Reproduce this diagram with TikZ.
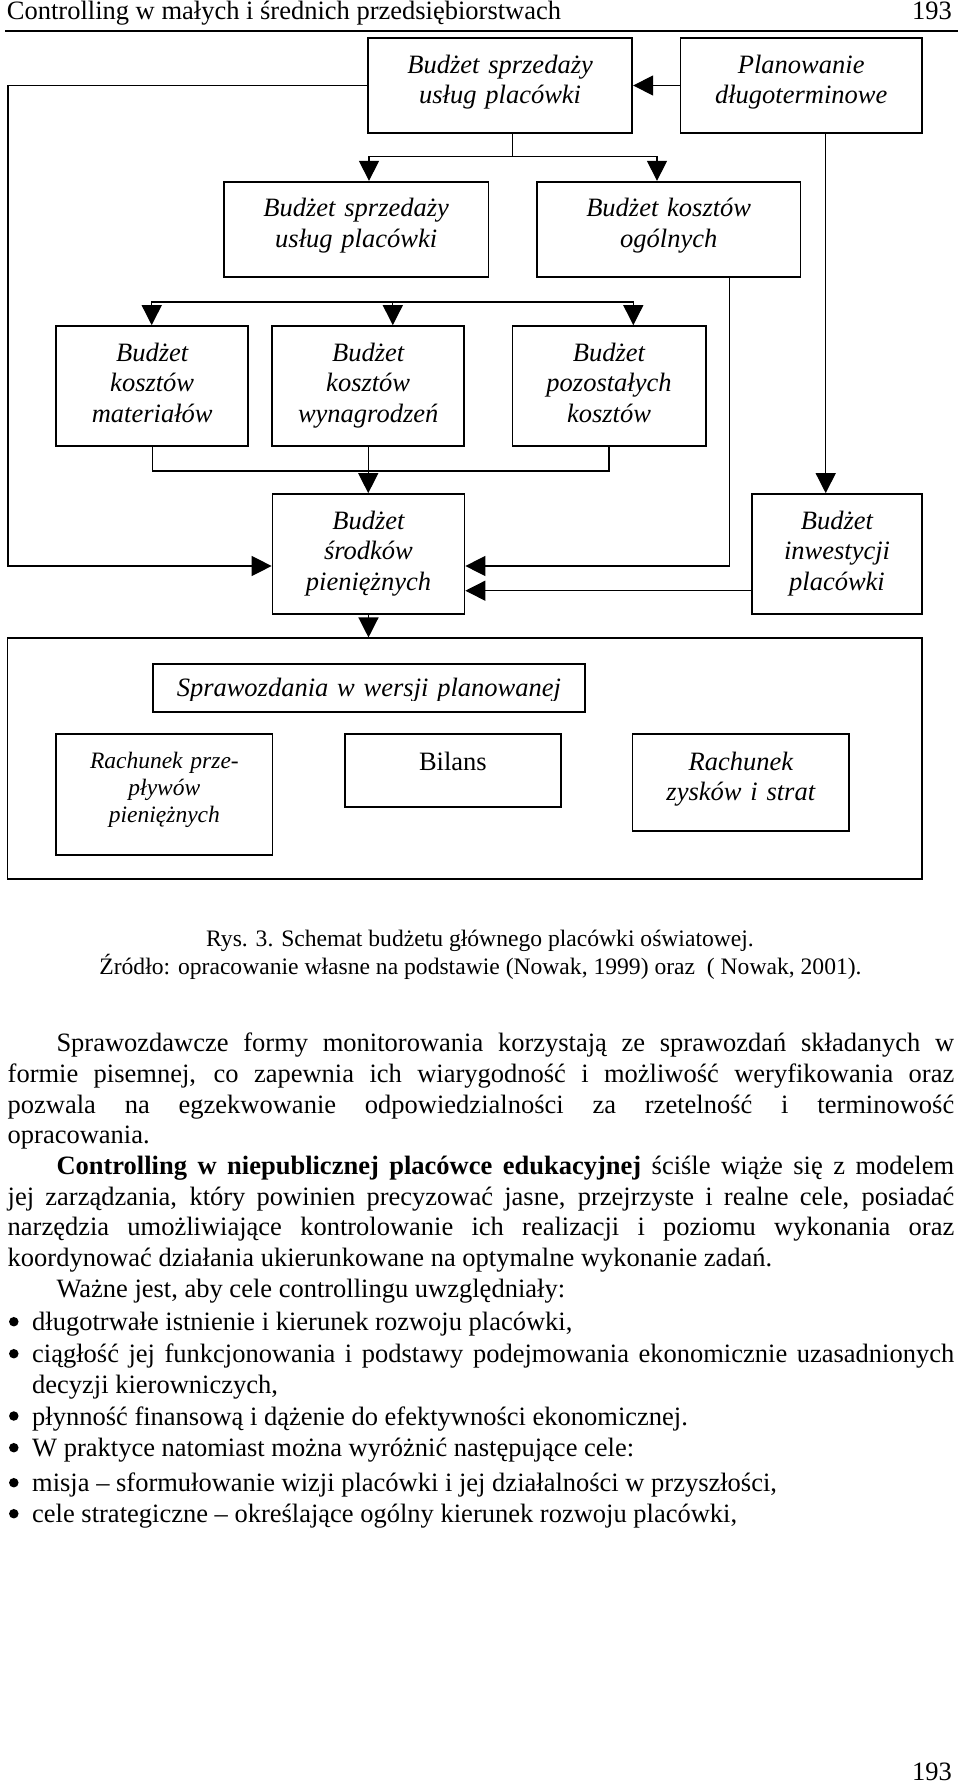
\documentclass[tikz,border=0pt]{standalone}
\usepackage{fontspec}
\setmainfont{Liberation Serif}
\usetikzlibrary{arrows.meta,fit}
\newcommand\bxfont{\fontsize{26.5}{30.66}\selectfont\itshape}
\newcommand\smfont{\fontsize{23.5}{27.2}\selectfont\itshape}
\newcommand\bodyfont{\fontsize{26.5}{30.66}\selectfont}
\newcommand\capfont{\fontsize{23.6}{27}\selectfont}
\begin{document}
\begin{tikzpicture}[x=1pt,y=-1pt,
  box/.style={draw, line width=1.7pt, inner sep=0pt},
  conn/.style={line width=1.3pt, line cap=rect},
  arr/.style={-{Triangle[length=20pt,width=20pt]}},
  bt/.style={anchor=base, inner sep=0pt, text width=#1, align=center, font=\bxfont},
  bt/.default=250pt,
  tl/.style={anchor=base west, inner sep=0pt, font=\bodyfont},
  dot/.style={circle, fill, inner sep=0pt, minimum size=9.5pt},
  ]
\useasboundingbox (0,0) rectangle (960,1784);
\fill[white] (0,0) rectangle (960,1784);

% header
\node[tl] (hd) at (6.7,20) {Controlling w małych i średnich przedsiębiorstwach};
\node[anchor=base east, inner sep=0pt, font=\bodyfont] (pg1) at (952,20) {193};
\draw[line width=1.8pt] (5,31) -- (958,31);

% boxes
\node[box, fit={(367.9,37.7) (632.3,133.3)}] (B1) {};
\node[box, fit={(680.6,37.7) (921.7,133.3)}] (P) {};
\node[box, fit={(224,181.7) (488.4,277.3)}] (B2a) {};
\node[box, fit={(536.7,181.7) (800.6,277.3)}] (B2b) {};
\node[box, fit={(56.3,326) (248,446)}] (B3a) {};
\node[box, fit={(272.3,326) (464.2,446)}] (B3b) {};
\node[box, fit={(512.4,326) (705.7,446)}] (B3c) {};
\node[box, fit={(272.5,494) (464.5,614)}] (B4) {};
\node[box, fit={(752.3,494) (921.7,614)}] (B5) {};
\node[box, fit={(7.5,638.3) (921.7,879)}] (Out) {};
\node[box, fit={(152.7,664) (585,712)}] (S) {};
\node[box, fit={(56.3,734) (272.5,855)}] (R1) {};
\node[box, fit={(344.8,734) (561,807)}] (R2) {};
\node[box, fit={(632.6,734) (849,831)}] (R3) {};

% box texts
\node[bt] (tB1) at (500.1,73.3) {Budżet sprzedaży\\usług placówki};
\node[bt] (tP) at (801.2,73.3) {Planowanie\\długoterminowe};
\node[bt] (tB2a) at (356.2,216.7) {Budżet sprzedaży\\usług placówki};
\node[bt] (tB2b) at (668.7,216.7) {Budżet kosztów\\ogólnych};
\node[bt=190pt] (tB3a) at (152.2,361) {Budżet\\kosztów\\materiałów};
\node[bt=190pt] (tB3b) at (368.2,361) {Budżet\\kosztów\\wynagrodzeń};
\node[bt=190pt] (tB3c) at (609,361) {Budżet\\pozostałych\\kosztów};
\node[bt=190pt] (tB4) at (368.5,529.3) {Budżet\\środków\\pieniężnych};
\node[bt=165pt] (tB5) at (837,529.3) {Budżet\\inwestycji\\placówki};
\begin{scope}
\clip (152.7,664) rectangle (585,700.5);
\node[bt=430pt] (tS) at (368.9,696.7) {Sprawozdania w wersji planowanej};
\end{scope}
\node[bt=210pt, font=\smfont] (tR1) at (164.4,768.3) {Rachunek prze-\\pływów\\pieniężnych};
\node[anchor=base, inner sep=0pt, font=\bodyfont] (tR2) at (452.9,770.7) {Bilans};
\node[bt=210pt] (tR3) at (740.8,770) {Rachunek\\zysków i strat};

% connectors
\draw[conn,arr] (P.west) -- (B1.east);
\coordinate (jL) at (8,566);
\draw[conn,arr] (B1.west) -| (jL) -- (jL -| B4.west);
\coordinate (b1s) at (512.6,156.7);
\coordinate (d2a) at (369,156.7);
\coordinate (d2b) at (657,156.7);
\draw[conn] (b1s |- B1.south) -- (b1s);
\draw[conn] (d2a) -- (d2b);
\draw[conn,arr] (d2a) -- (d2a |- B2a.north);
\draw[conn,arr] (d2b) -- (d2b |- B2b.north);
\coordinate (j2b) at (729.3,566);
\draw[conn,arr] (j2b |- B2b.south) -- (j2b) -- (j2b -| B4.east);
\coordinate (d3a) at (151.7,302);
\coordinate (d3b) at (392.8,302);
\coordinate (d3c) at (633.3,302);
\draw[conn] (d3a) -- (d3c);
\draw[conn,arr] (d3a) -- (d3a |- B3a.north);
\draw[conn,arr] (d3b) -- (d3b |- B3b.north);
\draw[conn,arr] (d3c) -- (d3c |- B3c.north);
\draw[conn] (B3a.south) -- ++(0,24) -| (B3c.south);
\draw[conn,arr] (B3b.south) -- (B3b.south |- B4.north);
\coordinate (c8) at (825.7,0);
\draw[conn,arr] (c8 |- P.south) -- (c8 |- B5.north);
\coordinate (c9) at (0,590.7);
\draw[conn,arr] (c9 -| B5.west) -- (c9 -| B4.east);
\draw[conn,arr] (B4.south) -- (B4.south |- Out.north);

% caption
\node[anchor=base, inner sep=0pt, font=\capfont] (cap1) at (480,946.7) {Rys. 3. Schemat budżetu głównego placówki oświatowej.};
\node[anchor=base, inner sep=0pt, font=\capfont] (cap2) at (480.5,974) {Źródło: opracowanie własne na podstawie (Nowak, 1999) oraz\ \ ( Nowak, 2001).};

% body text
\node[tl] (l1) at (56.3,1051.7) {\makebox[897.7pt][s]{Sprawozdawcze formy monitorowania korzystają ze sprawozdań składanych w}};
\node[tl] (l2) at (7.5,1082.4) {\makebox[946.5pt][s]{formie pisemnej, co zapewnia ich wiarygodność i możliwość weryfikowania oraz}};
\node[tl] (l3) at (7.5,1113.1) {\makebox[946.5pt][s]{pozwala na egzekwowanie odpowiedzialności za rzetelność i terminowość}};
\node[tl] (l4) at (7.5,1143.8) {opracowania.};
\node[tl] (l5) at (56.3,1174.5) {\makebox[897.7pt][s]{\textbf{Controlling w niepublicznej placówce edukacyjnej} ściśle wiąże się z modelem}};
\node[tl] (l6) at (7.5,1205.2) {\makebox[946.5pt][s]{jej zarządzania, który powinien precyzować jasne, przejrzyste i realne cele, posiadać}};
\node[tl] (l7) at (7.5,1235.9) {\makebox[946.5pt][s]{narzędzia umożliwiające kontrolowanie ich realizacji i poziomu wykonania oraz}};
\node[tl] (l8) at (7.5,1266.6) {koordynować działania ukierunkowane na optymalne wykonanie zadań.};
\node[tl] (l9) at (56.3,1297.3) {Ważne jest, aby cele controllingu uwzględniały:};

\foreach \yy/\nn in {1330.7/1,1362.7/2,1425/3,1456.7/4,1491.7/5,1522.7/6}
  \node[dot] (u\nn) at (13.8,\yy-9) {};
\node[tl] (b1) at (32,1330.7) {długotrwałe istnienie i kierunek rozwoju placówki,};
\node[tl] (b2) at (32,1362.7) {\makebox[922pt][s]{ciągłość jej funkcjonowania i podstawy podejmowania ekonomicznie uzasadnionych}};
\node[tl] (b2b) at (32,1393.3) {decyzji kierowniczych,};
\node[tl] (b3) at (32,1425) {płynność finansową i dążenie do efektywności ekonomicznej.};
\node[tl] (b4) at (32,1456.7) {W praktyce natomiast można wyróżnić następujące cele:};
\node[tl] (b5) at (32,1491.7) {misja – sformułowanie wizji placówki i jej działalności w przyszłości,};
\node[tl] (b6) at (32,1522.7) {cele strategiczne – określające ogólny kierunek rozwoju placówki,};

\node[anchor=base east, inner sep=0pt, font=\bodyfont] (pg2) at (952,1780) {193};
\end{tikzpicture}
\end{document}
